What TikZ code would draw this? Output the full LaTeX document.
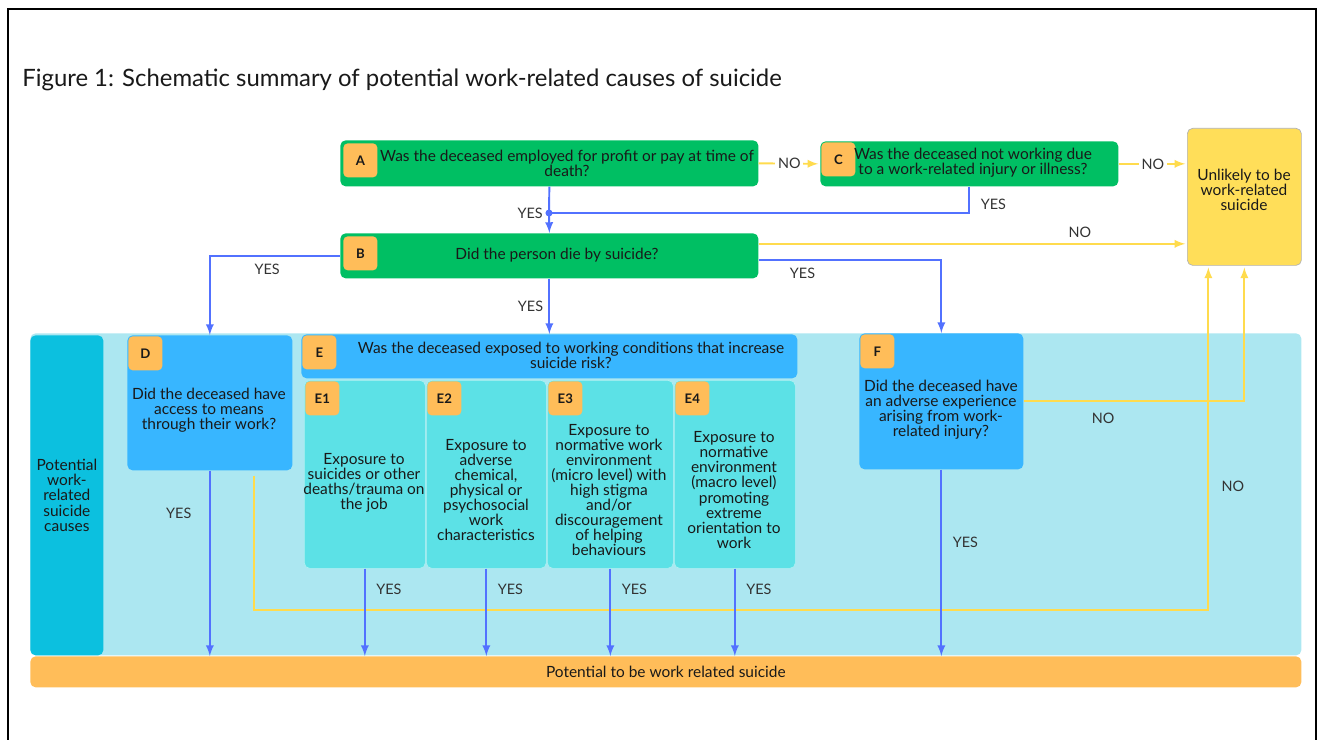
\documentclass[tikz,border=0pt]{standalone}
\usepackage{fontspec, xcolor}
\setmainfont{Lato}
\usetikzlibrary{calc}

\definecolor{qgreen}{HTML}{00BF63}
\definecolor{qblue}{HTML}{38B6FF}
\definecolor{ebox}{HTML}{5CE1E6}
\definecolor{panelblue}{HTML}{ACE7F1}
\definecolor{causeteal}{HTML}{0CC0DF}
\definecolor{tagorange}{HTML}{FFBD59}
\definecolor{unlikely}{HTML}{FFDE59}
\definecolor{yesblue}{HTML}{5271FF}
\definecolor{noyellow}{HTML}{FFDB4D}

\begin{document}
\begin{tikzpicture}[x=0.02cm, y=-0.02cm,
    font=\fontsize{8.8}{8.6}\selectfont,
    every node/.style={text=black!90, align=center, inner sep=0pt},
    box/.style n args={2}{rounded corners=3pt, anchor=north west,
        minimum width=#1*0.02cm, minimum height=#2*0.02cm},
    tag/.style={fill=tagorange, rounded corners=2.5pt, anchor=north west,
        minimum size=34*0.02cm, font=\bfseries\fontsize{7.5}{8}\selectfont},
    lbl/.style={text=black!80, font=\fontsize{8.2}{9}\selectfont},
    yesline/.style={yesblue, line width=1.1pt},
    yesarrow/.style={yesline, -latex},
    noline/.style={noyellow, line width=1.1pt},
    noarrow/.style={noline, -latex, shorten >=1pt}]
  \useasboundingbox (0,0) rectangle (1319,740);
  \draw[line width=1.3pt] (8,745) -- (8,9) -- (1316,9) -- (1316,745);

  \node[anchor=west, font=\fontsize{13.6}{15}\selectfont] (title) at (22,80)
    {Figure 1: Schematic summary of potential work-related causes of suicide};

  % background panels
  \node[box={1271}{322}, fill=panelblue] (panel) at (30,333) {};
  \node[box={73}{320}, fill=causeteal] (causes) at (30,335)
    {Potential\\work-\\related\\suicide\\causes};
  \node[box={1271}{31}, fill=tagorange] (P) at (30,656) {Potential to be work related suicide};

  % questions A, B, C
  \node[box={418}{46}, fill=qgreen] (A) at (340,140) {};
  \node[tag] (Atag) at ($(A.north west)+(3,3)$) {A};
  \node (At) at (567,163) {Was the deceased employed for profit or pay at time of\\death?};
  \node[box={298}{45}, fill=qgreen] (C) at (820,141) {};
  \node[tag] (Ctag) at ($(C.north west)+(1,1)$) {C};
  \node (Ct) at (973,163) {Was the deceased not working due\\to a work-related injury or illness?};
  \node[box={418}{45}, fill=qgreen] (B) at (340,233) {};
  \node[tag] (Btag) at ($(B.north west)+(3,3)$) {B};
  \node (Bt) at (557,255) {Did the person die by suicide?};
  \node[box={114}{137}, fill=unlikely, draw=black!30] (U) at (1187,128) {};
  \node (Ut) at (1244,190) {Unlikely to be\\work-related\\suicide};

  % questions D, E, F
  \node[box={165}{135}, fill=qblue] (D) at (127,335) {};
  \node[tag] (Dtag) at ($(D.north west)+(1,1)$) {D};
  \node (Dt) at (209,410) {Did the deceased have\\access to means\\through their work?};
  \node[box={496}{44}, fill=qblue] (E) at (301,334) {};
  \node[tag] (Etag) at ($(E.north west)+(1,1)$) {E};
  \node (Et) at (571,355) {Was the deceased exposed to working conditions that increase\\suicide risk?};
  \node[box={164}{136}, fill=qblue] (F) at (859,333) {};
  \node[tag] (Ftag) at ($(F.north west)+(1,1)$) {F};
  \node (Ft) at (941,410) {Did the deceased have\\an adverse experience\\arising from work-\\related injury?};

  \node[box={121}{188}, fill=ebox, draw=ebox!50!white] (E1) at (304,380) {};
  \node[tag] (E1tag) at ($(E1.north west)+(1,1)$) {E1};
  \node (E1t) at (364,483) {Exposure to\\suicides or other\\deaths/trauma on\\the job};
  \node[box={120}{188}, fill=ebox, draw=ebox!50!white] (E2) at (426,380) {};
  \node[tag] (E2tag) at ($(E2.north west)+(1,1)$) {E2};
  \node (E2t) at (486,490) {Exposure to\\adverse\\chemical,\\physical or\\psychosocial\\work\\characteristics};
  \node[box={126}{188}, fill=ebox, draw=ebox!50!white] (E3) at (547,380) {};
  \node[tag] (E3tag) at ($(E3.north west)+(1,1)$) {E3};
  \node (E3t) at (609,490) {Exposure to\\normative work\\environment\\(micro level) with\\high stigma\\and/or\\discouragement\\of helping\\behaviours};
  \node[box={121}{188}, fill=ebox, draw=ebox!50!white] (E4) at (674,380) {};
  \node[tag] (E4tag) at ($(E4.north west)+(1,1)$) {E4};
  \node (E4t) at (734,490) {Exposure to\\normative\\environment\\(macro level)\\promoting\\extreme\\orientation to\\work};

  % top connectors
  \draw[noarrow] (A.east) -- node[lbl, fill=white, inner sep=1.5pt]{NO} (C.west);
  \draw[noarrow] (C.east) -- node[lbl, fill=white, inner sep=1.5pt]{NO} (C.east -| U.west);
  \coordinate (J) at (549,213);
  \draw[yesline] (A.south) -- (J) node[lbl, left=3pt]{YES};
  \draw[yesline] (C.south) |- node[lbl, pos=0.33, right=6pt]{YES} (J);
  \draw[yesarrow] (J) -- (B.north);
  \fill[yesblue] (J) circle (2pt);

  \draw[noarrow] ($(B.east)+(0,-12)$) coordinate (b1) -- node[lbl, pos=0.75, above=3pt]{NO} (b1 -| U.west);
  \draw[yesarrow] ($(B.east)+(0,4)$) -| node[lbl, pos=0.12, below=4pt]{YES} (F.north);
  \draw[yesarrow] (B.west) -| node[lbl, pos=0.28, below=4pt]{YES} (D.north);
  \draw[yesarrow] (B.south) -- node[lbl, left=3pt]{YES} (E.north);

  % NO paths back to U
  \coordinate (Dno) at ($(D.south)+(44,5)$);
  \coordinate (Uin) at ($(U.south)+(-36,0)$);
  \draw[noarrow] (Dno) -- ++(0,134) -| node[lbl, pos=0.68, right=7pt]{NO} (Uin);
  \draw[noarrow] (F.east) -| node[lbl, pos=0.18, below=6pt]{NO} (U.south);

  % YES paths down to P
  \draw[yesarrow] (D.south) -- node[lbl, pos=0.23, left=10pt]{YES} (D.south |- P.north);
  \draw[yesarrow] (E1.south) -- node[lbl, pos=0.24, right=6pt]{YES} (E1.south |- P.north);
  \draw[yesarrow] (E2.south) -- node[lbl, pos=0.24, right=6pt]{YES} (E2.south |- P.north);
  \draw[yesarrow] (E3.south) -- node[lbl, pos=0.24, right=6pt]{YES} (E3.south |- P.north);
  \draw[yesarrow] (E4.south) -- node[lbl, pos=0.24, right=6pt]{YES} (E4.south |- P.north);
  \draw[yesarrow] (F.south) -- node[lbl, pos=0.39, right=6pt]{YES} (F.south |- P.north);
\end{tikzpicture}
\end{document}
